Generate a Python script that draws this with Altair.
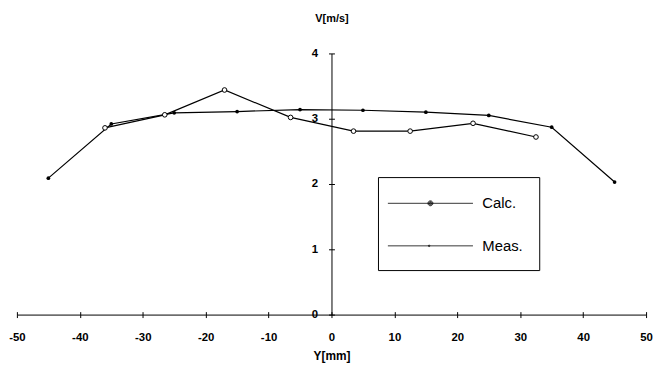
import altair as alt
import pandas as pd

# ---- data ----
calc_y = [-45, -35, -25, -15, -5, 5, 15, 25, 35, 45]
calc_v = [2.09, 2.92, 3.09, 3.11, 3.14, 3.13, 3.10, 3.05, 2.87, 2.03]

meas_y = [-36, -26.5, -17, -6.5, 3.5, 12.5, 22.5, 32.5]
meas_v = [2.86, 3.06, 3.44, 3.02, 2.81, 2.81, 2.93, 2.72]

series_names = ["Calc.", "Meas."]
x_ticks = list(range(-50, 51, 10))
y_ticks = [0, 1, 2, 3, 4]

W, H = 636, 264
FONT = "Liberation Sans"

df_calc = pd.DataFrame({"ymm": calc_y, "v": calc_v})
df_meas = pd.DataFrame({"ymm": meas_y, "v": meas_v})
df_leg = pd.DataFrame({"series": series_names})

xs = alt.Scale(domain=[-50, 50], nice=False, zero=False)
ys = alt.Scale(domain=[0, 4], nice=False)

main_x = alt.Axis(values=x_ticks, tickSize=3, labelPadding=14, labelFont=FONT,
                  labelFontWeight="bold", labelFontSize=11.5, labelColor="black",
                  labelExpr="'' + datum.value",
                  domainColor="black", tickColor="black", grid=False,
                  labelFlush=False, title="Y[mm]", titleFont=FONT,
                  titleFontSize=12, titleFontWeight="bold", titleColor="black",
                  titlePadding=8)
main_y = alt.Axis(orient="left", offset=-W / 2, values=y_ticks, tickSize=3,
                  labelPadding=11, labelFont=FONT, labelFontWeight="bold",
                  labelFontSize=11.5, labelColor="black", domainColor="black",
                  tickColor="black", grid=False, title="V[m/s]", titleFont=FONT,
                  titleFontSize=11, titleFontWeight="bold", titleColor="black",
                  titleAngle=0, titleX=0, titleY=-35, titleAlign="center",
                  titleBaseline="middle")
sec_x = alt.Axis(orient="top", offset=-H, values=x_ticks, tickSize=3,
                 labels=False, domain=False, tickColor="black", grid=False,
                 title=None)
sec_y = alt.Axis(orient="right", offset=-W / 2, values=y_ticks, tickSize=3,
                 labels=False, domain=False, tickColor="black", grid=False,
                 title=None)

calc_line = alt.Chart(df_calc).mark_line(color="black", strokeWidth=1.2).encode(
    x=alt.X("ymm:Q", scale=xs, axis=main_x),
    y=alt.Y("v:Q", scale=ys, axis=main_y),
)
meas_line = alt.Chart(df_meas).mark_line(color="black", strokeWidth=1.2).encode(
    x=alt.X("ymm:Q", scale=xs, axis=sec_x),
    y=alt.Y("v:Q", scale=ys, axis=sec_y),
)
calc_pts = alt.Chart(df_calc).mark_circle(color="black", size=14, opacity=1).encode(
    x=alt.X("ymm:Q", scale=xs, axis=None),
    y=alt.Y("v:Q", scale=ys, axis=None),
)
meas_pts = alt.Chart(df_meas).mark_point(
    shape="circle", filled=False, fill="white", fillOpacity=1, stroke="black",
    strokeWidth=1, size=22, opacity=1
).encode(
    x=alt.X("ymm:Q", scale=xs, axis=None),
    y=alt.Y("v:Q", scale=ys, axis=None),
)

calc_path = ("M-4.3,0H4.3"
             "M0.25,0A0.25,0.25 0 1,1 -0.25,0A0.25,0.25 0 1,1 0.25,0"
             "M0.17,0A0.17,0.17 0 1,1 -0.17,0A0.17,0.17 0 1,1 0.17,0"
             "M0.09,0A0.09,0.09 0 1,1 -0.09,0A0.09,0.09 0 1,1 0.09,0")
meas_path = ("M-4.3,0H4.3"
             "M-0.05,0A0.08,0.08 0 1,1 -0.21,0A0.08,0.08 0 1,1 -0.05,0")

legend_layer = alt.Chart(df_leg).mark_point(
    filled=False, color="black", size=400, strokeWidth=0.8, opacity=1
).encode(
    shape=alt.Shape(
        "series:N",
        scale=alt.Scale(domain=series_names, range=[calc_path, meas_path]),
        legend=alt.Legend(
            title=None, orient="none", legendX=365, legendY=125,
            strokeColor="black", padding=16, symbolSize=400,
            symbolStrokeWidth=0.8, symbolStrokeColor="black",
            symbolOffset=26.5, labelOffset=42, rowPadding=24,
            labelFont=FONT, labelFontSize=15, labelColor="black",
            labelExpr="datum.label + ' '",
        ),
    )
).transform_filter("false")

chart = alt.layer(calc_line, meas_line, calc_pts, meas_pts, legend_layer).resolve_axis(
    x="independent", y="independent"
).properties(
    width=W, height=H,
    autosize=alt.AutoSizeParams(type="none"),
    padding={"left": 9, "top": 44, "right": 7, "bottom": 47},
    background="white",
).configure_view(stroke=None)

chart.save("out.html", embed_options={"renderer": "svg", "actions": False})
